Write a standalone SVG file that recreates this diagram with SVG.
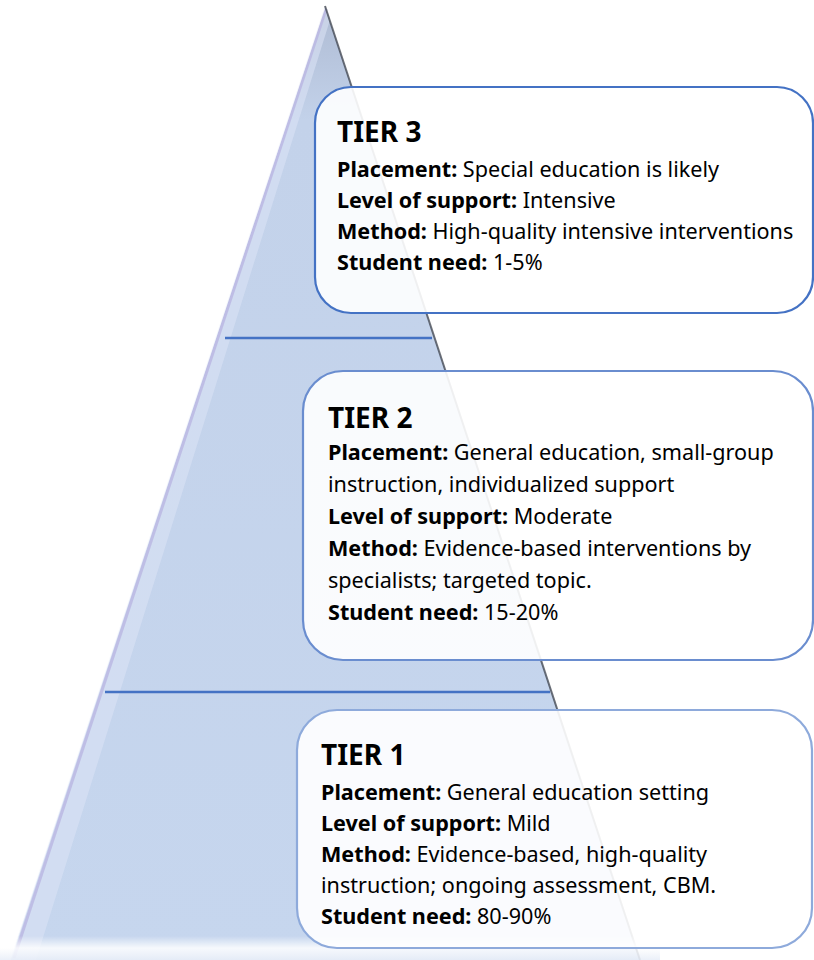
<svg xmlns="http://www.w3.org/2000/svg" width="814" height="960" viewBox="0 0 814 960">
  <defs>
    <linearGradient id="pyrFill" x1="0" y1="0" x2="0" y2="1">
      <stop offset="0" stop-color="#aebbd3"/>
      <stop offset="0.12" stop-color="#c3d2ea"/>
      <stop offset="1" stop-color="#c6d6ee"/>
    </linearGradient>
    <linearGradient id="baseFade" x1="0" y1="0" x2="0" y2="1">
      <stop offset="0" stop-color="#ffffff" stop-opacity="0"/>
      <stop offset="0.5" stop-color="#ffffff" stop-opacity="0.85"/>
      <stop offset="1" stop-color="#e8eef8" stop-opacity="0.9"/>
    </linearGradient>
    <style>
      .box { fill: #ffffff; fill-opacity: 0.9; stroke-width: 2.2; }
      .divider { stroke: #4472c4; stroke-width: 2.5; }
      text { font-family: "Noto Sans", "Open Sans", sans-serif; fill: #000000; }
      .head { font-size: 28px; font-weight: bold; }
      .body { font-size: 21.6px; }
      .b { font-weight: bold; }
    </style>
  </defs>

  <rect width="814" height="960" fill="#ffffff"/>

  <!-- pyramid body -->
  <g id="pyramid">
    <polygon points="325,6 640,960 10,960" fill="url(#pyrFill)"/>
    <!-- light bevel down the left face -->
    <polygon points="325,6 330,20 36,960 10,960" fill="#dce4f5" fill-opacity="0.55"/>
    <line x1="326" y1="9" x2="14" y2="958" stroke="#b7b3e0" stroke-width="3" stroke-opacity="0.75"/>
    <line x1="325" y1="6" x2="10" y2="960" stroke="#ffffff" stroke-width="1.5" stroke-opacity="0.8"/>
    <!-- dark right-hand edge -->
    <line x1="325" y1="6" x2="640" y2="960" stroke="#3a3f4a" stroke-width="2" stroke-opacity="0.75"/>
    <!-- pale base band -->
    <rect x="0" y="936" width="660" height="24" fill="url(#baseFade)"/>
  </g>

  <!-- tier dividers -->
  <g id="connectors">
    <line class="divider" x1="225" y1="338" x2="432" y2="338"/>
    <line class="divider" x1="105" y1="692" x2="550" y2="692"/>
  </g>

  <!-- tier 3 -->
  <g id="tier3">
    <rect class="box" x="315" y="87" width="498" height="226" rx="36" ry="36" stroke="#4472c4"/>
    <text class="head" x="337" y="142">TIER 3</text>
    <text class="body" x="337" y="177"><tspan class="b">Placement:</tspan> Special education is likely</text>
    <text class="body" x="337" y="208"><tspan class="b">Level of support:</tspan> Intensive</text>
    <text class="body" x="337" y="239"><tspan class="b">Method:</tspan> High-quality intensive interventions</text>
    <text class="body" x="337" y="270"><tspan class="b">Student need:</tspan> 1-5%</text>
  </g>

  <!-- tier 2 -->
  <g id="tier2">
    <rect class="box" x="303" y="371" width="510" height="289" rx="40" ry="40" stroke="#6a8dcf"/>
    <text class="head" x="328" y="428">TIER 2</text>
    <text class="body" x="328" y="460"><tspan class="b">Placement:</tspan> General education, small-group</text>
    <text class="body" x="328" y="492">instruction, individualized support</text>
    <text class="body" x="328" y="524"><tspan class="b">Level of support:</tspan> Moderate</text>
    <text class="body" x="328" y="556"><tspan class="b">Method:</tspan> Evidence-based interventions by</text>
    <text class="body" x="328" y="588">specialists; targeted topic.</text>
    <text class="body" x="328" y="620"><tspan class="b">Student need:</tspan> 15-20%</text>
  </g>

  <!-- tier 1 -->
  <g id="tier1">
    <rect class="box" x="297" y="710" width="515" height="238" rx="40" ry="40" stroke="#8eaadb"/>
    <text class="head" x="321" y="765">TIER 1</text>
    <text class="body" x="321" y="800"><tspan class="b">Placement:</tspan> General education setting</text>
    <text class="body" x="321" y="831"><tspan class="b">Level of support:</tspan> Mild</text>
    <text class="body" x="321" y="862"><tspan class="b">Method:</tspan> Evidence-based, high-quality</text>
    <text class="body" x="321" y="893">instruction; ongoing assessment, CBM.</text>
    <text class="body" x="321" y="924"><tspan class="b">Student need:</tspan> 80-90%</text>
  </g>
</svg>
